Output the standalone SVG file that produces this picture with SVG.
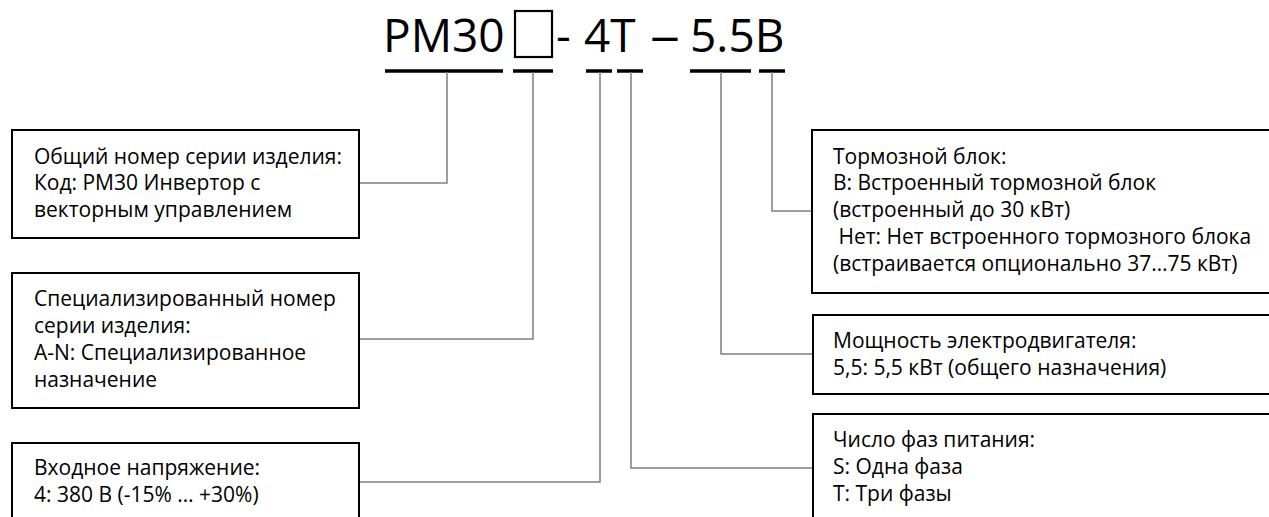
<svg xmlns="http://www.w3.org/2000/svg" width="1269" height="517" viewBox="0 0 1269 517">
<style>
.t{font-family:"Open Sans","Noto Sans","DejaVu Sans",sans-serif;font-size:21px;fill:#000}
.title{font-family:"Open Sans","Noto Sans","DejaVu Sans",sans-serif;font-size:46px;fill:#000}
.box{fill:#fff;stroke:#000;stroke-width:2}
.ul{stroke:#000;stroke-width:3.5;fill:none}
.c{stroke:#7f7f7f;stroke-width:1.5;fill:none}
</style>
<rect width="1269" height="517" fill="#fff"/>
<g id="title">
<text class="title" x="383" y="52">PM30</text>
<rect x="515" y="11" width="37" height="46" fill="none" stroke="#000" stroke-width="2.2"/>
<text class="title" x="556" y="52">-</text>
<text class="title" x="584" y="52">4T</text>
<text class="title" x="650" y="52" textLength="30" lengthAdjust="spacingAndGlyphs">–</text>
<text class="title" x="690" y="52">5.5B</text>
</g>
<g id="underlines">
<line class="ul" x1="385" y1="71" x2="503" y2="71"/>
<line class="ul" x1="513" y1="71" x2="553" y2="71"/>
<line class="ul" x1="586" y1="71" x2="612" y2="71"/>
<line class="ul" x1="617" y1="71" x2="643" y2="71"/>
<line class="ul" x1="690" y1="71" x2="751" y2="71"/>
<line class="ul" x1="759" y1="71" x2="785" y2="71"/>
</g>
<g id="connectors">
<polyline class="c" points="447,72 447,183 359,183"/>
<polyline class="c" points="533,72 533,339 359,339"/>
<polyline class="c" points="600,72 600,482 359,482"/>
<polyline class="c" points="631,72 631,468 813,468"/>
<polyline class="c" points="721,72 721,354 813,354"/>
<polyline class="c" points="772,72 772,211 812,211"/>
</g>
<g id="box-series">
<rect class="box" x="12" y="130" width="347" height="108"/>
<text class="t" x="34" y="164">Общий номер серии изделия:</text>
<text class="t" x="34" y="190">Код: PM30 Инвертор с</text>
<text class="t" x="34" y="217">векторным управлением</text>
</g>
<g id="box-special">
<rect class="box" x="12" y="273" width="347" height="135"/>
<text class="t" x="34" y="306">Специализированный номер</text>
<text class="t" x="34" y="333">серии изделия:</text>
<text class="t" x="34" y="360">A-N: Специализированное</text>
<text class="t" x="34" y="387">назначение</text>
</g>
<g id="box-voltage">
<rect class="box" x="12" y="443" width="347" height="90"/>
<text class="t" x="34" y="475">Входное напряжение:</text>
<text class="t" x="34" y="502">4: 380 В (-15% … +30%)</text>
</g>
<g id="box-brake">
<rect class="box" x="812" y="130" width="470" height="163"/>
<text class="t" x="833" y="164">Тормозной блок:</text>
<text class="t" x="833" y="190">B: Встроенный тормозной блок</text>
<text class="t" x="833" y="217">(встроенный до 30 кВт)</text>
<text class="t" x="833" y="244" xml:space="preserve"> Нет: Нет встроенного тормозного блока</text>
<text class="t" x="833" y="271">(встраивается опционально 37…75 кВт)</text>
</g>
<g id="box-power">
<rect class="box" x="813" y="315" width="470" height="79"/>
<text class="t" x="833" y="348">Мощность электродвигателя:</text>
<text class="t" x="833" y="375">5,5: 5,5 кВт (общего назначения)</text>
</g>
<g id="box-phase">
<rect class="box" x="813" y="414" width="470" height="120"/>
<text class="t" x="833" y="447">Число фаз питания:</text>
<text class="t" x="833" y="474">S: Одна фаза</text>
<text class="t" x="833" y="501">T: Три фазы</text>
</g>
</svg>
